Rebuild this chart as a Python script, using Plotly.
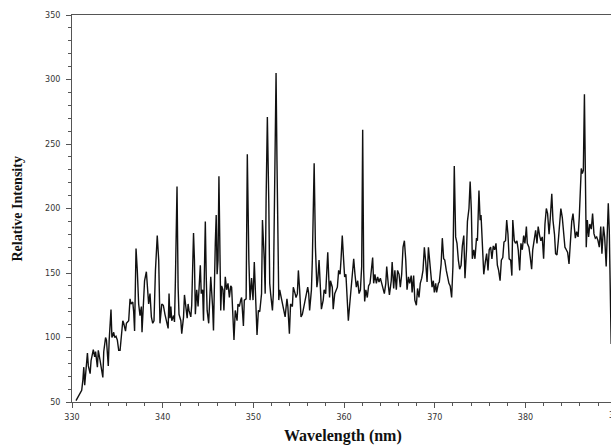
import plotly.graph_objects as go

# Emission spectrum: wavelength (nm) and relative intensity
wavelength = [
    330.44, 330.6, 330.9, 331.07, 331.2, 331.3, 331.4, 331.5, 331.7, 331.8, 332.0, 332.1, 332.35, 332.5, 332.6,
    332.8, 332.9, 333.1, 333.2, 333.4, 333.5, 333.7, 333.8, 334.0, 334.1, 334.3, 334.4, 334.6, 334.7, 334.85,
    335.0, 335.15, 335.3, 335.4, 335.6, 335.7, 335.9, 336.0, 336.25, 336.4, 336.5, 336.7, 336.8, 336.9, 337.06,
    337.2, 337.35, 337.5, 337.65, 337.72, 337.9, 338.0, 338.2, 338.3, 338.45, 338.6, 338.75, 338.9, 339.04, 339.2,
    339.26, 339.4, 339.56,
    339.7, 339.9, 340.07, 340.25, 340.4, 340.6, 340.7, 340.8, 340.9, 341.0, 341.2, 341.3, 341.4, 341.58, 341.7,
    341.8, 342.0, 342.1, 342.3, 342.4, 342.6, 342.7, 342.8, 342.9, 343.1, 343.2, 343.4, 343.5, 343.6, 343.75,
    343.9, 344.0, 344.15, 344.25, 344.4, 344.5, 344.6, 344.7, 344.8, 344.9, 345.07, 345.2, 345.3, 345.5, 345.6,
    345.8, 345.9, 346.0, 346.1, 346.2, 346.3, 346.4, 346.5, 346.65, 346.75, 346.9, 347.05, 347.2, 347.35, 347.5,
    347.6, 347.75, 347.86, 348.0, 348.2, 348.3, 348.45, 348.6, 348.7, 348.9, 349.0, 349.2, 349.33, 349.5,
    349.63, 349.8, 349.96, 350.1, 350.25, 350.4, 350.55, 350.7, 350.9, 351.0, 351.2, 351.3, 351.4, 351.54, 351.7,
    351.8, 351.9, 352.1, 352.2, 352.4, 352.5, 352.6, 352.8, 352.9, 353.1, 353.2, 353.4, 353.5, 353.7, 353.8,
    353.97, 354.1, 354.3, 354.4, 354.6, 354.7, 354.85, 354.96, 355.1, 355.25, 355.4, 355.55, 355.7, 355.8, 355.99,
    356.1, 356.2, 356.4, 356.5, 356.7, 356.84, 357.0, 357.1, 357.24, 357.4, 357.5, 357.7, 357.8, 357.97, 358.1,
    358.2, 358.4, 358.5, 358.7, 358.8, 358.97, 359.1, 359.26, 359.4, 359.56,
    359.66, 359.8, 359.95, 360.06, 360.2, 360.3, 360.47, 360.6, 360.76, 360.9, 361.06, 361.2, 361.35, 361.5, 361.65,
    361.8, 361.94, 362.05, 362.16, 362.27, 362.4, 362.56, 362.7, 362.86, 363.0, 363.15, 363.26, 363.4, 363.56, 363.7,
    363.85, 364.0, 364.15, 364.3, 364.44, 364.6, 364.7, 364.9, 365.0, 365.2, 365.3, 365.47, 365.6, 365.76, 365.9,
    366.06, 366.2, 366.35, 366.5, 366.65, 366.8, 366.94, 367.1, 367.23, 367.4, 367.5, 367.67, 367.8, 367.97, 368.1,
    368.26, 368.4, 368.56, 368.7, 368.85, 369.0, 369.15, 369.3, 369.44,
    369.54, 369.7, 369.84, 369.95, 370.1, 370.2, 370.4, 370.5, 370.7, 370.83, 370.98, 371.1, 371.27, 371.4, 371.56,
    371.7, 371.86, 372.0, 372.15, 372.3, 372.45, 372.6, 372.74, 372.9, 373.04, 373.2, 373.33, 373.5, 373.6, 373.77,
    373.9, 374.03, 374.14, 374.3, 374.43, 374.6, 374.7, 374.87, 375.0, 375.1, 375.3, 375.4, 375.57, 375.72, 375.87,
    376.0, 376.16, 376.3, 376.45, 376.6, 376.75, 376.9, 377.04, 377.2, 377.34, 377.5, 377.63, 377.8, 377.93, 378.07,
    378.2, 378.37, 378.5, 378.6, 378.77, 378.9, 379.06, 379.2, 379.36,
    379.5, 379.65, 379.8, 379.94, 380.1, 380.2, 380.38, 380.53, 380.68, 380.8, 380.97, 381.12, 381.27, 381.4, 381.56,
    381.7, 381.85, 382.0, 382.15, 382.3, 382.44, 382.6, 382.74, 382.9, 383.03, 383.2, 383.32, 383.47, 383.62, 383.76,
    383.9, 384.06, 384.2, 384.35, 384.5, 384.65, 384.8, 384.94, 385.1, 385.24, 385.38, 385.5, 385.64, 385.8, 385.93,
    386.04, 386.15, 386.27, 386.38, 386.5, 386.6, 386.7, 386.82, 386.96, 387.1, 387.26, 387.4, 387.55, 387.7, 387.85,
    388.0, 388.14, 388.3, 388.43, 388.6, 388.73, 388.9, 389.02, 389.13, 389.24, 389.35, 389.45,
]

intensity = [
    51, 53, 56, 59, 67, 77, 63, 72, 88, 78, 72, 82, 90.6, 85, 89,
    77, 90, 82, 77, 69, 89, 100, 98, 78, 98, 121.6, 100, 104, 100, 101,
    98, 90, 90, 98, 113, 111, 105, 111, 113, 130, 126, 127.5, 120, 105, 169,
    152, 126, 117, 124, 104, 131, 144, 151, 139, 126, 134, 116, 111, 113, 152,
    164, 179, 160,
    111, 126, 125, 118, 113, 107, 134, 115, 124, 113, 117, 112, 144, 217, 139,
    118, 113, 103, 116, 133, 121, 115, 126, 121, 116, 125, 181, 160, 118, 137,
    124, 139, 156, 134, 137, 113, 149, 190, 147, 121, 111, 129, 147, 124, 105.5,
    173, 195, 149, 160, 225, 165, 121, 140, 137, 121, 147, 137, 142, 131, 140,
    139, 116, 98, 121, 113, 126, 124, 129, 131, 109, 129, 130, 242, 160,
    129, 146, 129, 158.5, 129, 102, 121, 120, 134, 191, 160, 134, 206, 271, 204,
    142, 134, 121, 134, 237, 305, 237, 129, 137, 129, 126, 118, 116, 130, 124,
    103, 126, 124, 139, 134, 131, 134, 152, 137, 116, 118, 124, 129, 134, 139,
    134, 121, 137, 160, 235, 170, 139, 144, 160, 134, 122, 129, 137, 134, 149,
    166, 131, 144, 139, 122, 134, 137, 139, 152, 149,
    160, 179, 160, 147, 149, 131, 113, 124, 137, 148, 161, 149, 139, 144, 134,
    137, 155, 261, 152, 128, 137, 131, 140, 142, 152, 162, 142, 149, 142, 147,
    143, 146, 142, 137, 134, 142, 155, 139, 133, 144, 158.5, 138, 152, 137, 152,
    149, 139, 149, 170, 175, 160, 137, 147, 142, 148, 135, 148, 129, 125, 138,
    131, 142, 146, 152, 170, 158.5, 143, 170, 160,
    147, 139, 144, 135, 142, 135, 142, 143, 157, 177, 161, 160, 152, 147, 142,
    140, 131, 155, 233, 178, 173, 160, 153, 156, 171, 179, 146, 168, 190, 200,
    221, 199, 161, 168, 161, 177, 175, 214, 191, 195, 168, 149, 158.5, 165, 152,
    168, 170, 161, 171, 168, 173, 156, 152, 144, 160, 162, 174, 175, 191, 180,
    161, 160, 148, 191, 175, 173, 175, 168, 152,
    173, 168, 179, 173, 186, 173, 170, 162, 153, 168, 175, 183, 173, 186, 179,
    175, 178, 161, 188, 200, 196, 180, 193, 211.5, 191, 180, 165, 164, 175, 186,
    200, 193, 178, 170, 168, 166, 157, 175, 190, 196, 186, 177, 182, 178, 193,
    222, 231, 227, 229.6, 288.5, 222, 170, 191, 178, 188, 184, 196, 180.5, 177, 178,
    175, 170, 186, 165, 186, 178, 155, 188, 204, 183, 139, 95,
]

x_range = [330, 389.43]
y_range = [50, 350]
x_tick_vals = [330, 340, 350, 360, 370, 380]
y_tick_vals = [50, 100, 150, 200, 250, 300, 350]

AXIS_COLOR = "#555555"
TICK_FONT = dict(family="DejaVu Sans", size=8, color="#333333")
YTITLE_FONT = dict(family="Liberation Serif", size=14, color="#111111")
XTITLE_FONT = dict(family="Liberation Serif", size=16, color="#111111")

fig = go.Figure(
    go.Scatter(
        x=wavelength,
        y=intensity,
        mode="lines",
        line=dict(color="#111111", width=1.4),
        hoverinfo="x+y",
    )
)

fig.update_layout(
    width=611,
    height=445,
    margin=dict(l=72, r=0, t=15, b=43),
    paper_bgcolor="white",
    plot_bgcolor="white",
    showlegend=False,
    xaxis=dict(
        range=x_range,
        tickvals=x_tick_vals,
        ticks="outside",
        ticklen=5,
        tickwidth=1,
        tickcolor=AXIS_COLOR,
        minor=dict(dtick=2, tick0=330, ticks="outside", ticklen=3, tickcolor=AXIS_COLOR, showgrid=False),
        showline=True,
        linecolor=AXIS_COLOR,
        linewidth=1,
        mirror=True,
        showgrid=False,
        zeroline=False,
        tickfont=TICK_FONT,
        ticklabelstandoff=2,
    ),
    yaxis=dict(
        range=y_range,
        tickvals=y_tick_vals,
        ticks="outside",
        ticklen=5,
        tickwidth=1,
        tickcolor=AXIS_COLOR,
        minor=dict(dtick=10, tick0=50, ticks="outside", ticklen=3, tickcolor=AXIS_COLOR, showgrid=False),
        showline=True,
        linecolor=AXIS_COLOR,
        linewidth=1,
        showgrid=False,
        zeroline=False,
        tickfont=TICK_FONT,
        ticklabelstandoff=4,
    ),
    annotations=[
        dict(
            text="<b>Wavelength (nm)</b>",
            xref="paper", yref="paper",
            x=0.5028, y=-0.0879,
            xanchor="center", yanchor="middle",
            showarrow=False,
            font=XTITLE_FONT,
        ),
        dict(
            text="<b>Relative Intensity</b>",
            xref="paper", yref="paper",
            x=-0.1002, y=0.5,
            xanchor="center", yanchor="middle",
            textangle=-90,
            showarrow=False,
            font=YTITLE_FONT,
        ),
        # last tick label sits just past the visible edge of the frame
        dict(
            text="390",
            xref="paper", yref="paper",
            x=1.0093, y=-0.034,
            xanchor="center", yanchor="middle",
            showarrow=False,
            font=TICK_FONT,
        ),
    ],
)

fig.write_html("out.html")
